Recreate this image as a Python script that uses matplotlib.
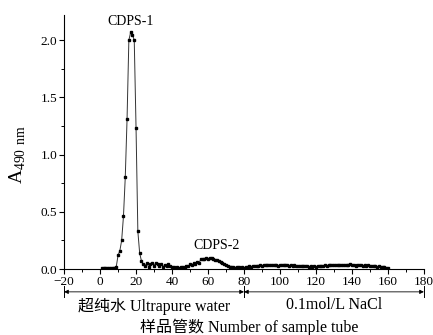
import matplotlib
matplotlib.use("Agg")
import matplotlib.pyplot as plt
from matplotlib.ticker import MultipleLocator

tubes = list(range(1, 161))
absorbance = [
    0.005, 0.006, 0.008, 0.007, 0.012, 0.008, 0.010, 0.012,
    0.02, 0.12, 0.16, 0.25, 0.46, 0.80, 1.31, 2.00, 2.07, 2.05, 2.00, 1.23,
    0.33, 0.14, 0.07,
    0.04, 0.03, 0.05, 0.02, 0.04, 0.05, 0.03, 0.055, 0.04, 0.03, 0.045, 0.02,
    0.035, 0.025, 0.04, 0.03, 0.015, 0.02, 0.012, 0.018, 0.01, 0.015, 0.02,
    0.01, 0.03, 0.025, 0.04,
    0.035, 0.05, 0.045, 0.06, 0.055,
    0.085, 0.09, 0.088, 0.093, 0.09, 0.095, 0.092, 0.088, 0.08, 0.075, 0.07,
    0.06, 0.05, 0.045, 0.035, 0.03, 0.02,
    0.015, 0.018, 0.012, 0.02, 0.015, 0.01, 0.015, 0.012,
    0.018, 0.02, 0.025, 0.02, 0.028, 0.025, 0.03, 0.028, 0.032, 0.03,
    0.035, 0.032, 0.038, 0.035, 0.033, 0.037, 0.034, 0.036, 0.03, 0.033,
    0.035, 0.038, 0.032, 0.036, 0.03, 0.034, 0.028, 0.032, 0.03, 0.026,
    0.03, 0.025, 0.028, 0.022, 0.025, 0.02, 0.024, 0.018, 0.022, 0.02,
    0.025, 0.028, 0.03, 0.026, 0.032, 0.03, 0.034, 0.032, 0.036, 0.034,
    0.038, 0.035, 0.037, 0.033, 0.036, 0.034, 0.038, 0.035, 0.04, 0.036,
    0.034, 0.03, 0.036, 0.032, 0.038, 0.03, 0.035, 0.028, 0.032, 0.026,
    0.03, 0.025, 0.028, 0.02, 0.024, 0.018, 0.02, 0.015, 0.012, 0.005,
]

peak_labels = ["CDPS-1", "CDPS-2"]
peak_pos = [(17, 2.11), (65, 0.15)]
segment_labels = ["超纯水 Ultrapure water", "0.1mol/L NaCl"]
segment_bounds = [(-20, 80), (80, 180)]
xlabel = "样品管数 Number of sample tube"
ylabel = r"A$_{\mathregular{490\ nm}}$"

fam = ["Liberation Serif", "Noto Sans CJK SC"]
plt.rcParams["font.family"] = fam
plt.rcParams["mathtext.fontset"] = "custom"
plt.rcParams["mathtext.rm"] = "Liberation Serif"

fig = plt.figure(figsize=(4.33, 3.35), dpi=100)
ax = fig.add_axes([0.148, 0.197, 0.831, 0.758])

ax.plot(tubes, absorbance, color="#333333", lw=0.7, marker="s", ms=1.7,
        mfc="black", mec="black")

ax.set_xlim(-20, 180)
ax.set_ylim(0, 2.22)
ax.xaxis.set_major_locator(MultipleLocator(20))
ax.xaxis.set_minor_locator(MultipleLocator(10))
ax.yaxis.set_major_locator(MultipleLocator(0.5))
ax.yaxis.set_minor_locator(MultipleLocator(0.25))
ax.yaxis.set_major_formatter(matplotlib.ticker.FormatStrFormatter("%.1f"))
ax.spines["top"].set_visible(False)
ax.spines["right"].set_visible(False)
ax.tick_params(which="major", direction="out", length=3.5, width=0.8, labelsize=9.5, pad=1.5)
ax.tick_params(which="minor", direction="out", length=2, width=0.7)

for lab, (px, py) in zip(peak_labels, peak_pos):
    ax.text(px, py, lab, ha="center", va="bottom", fontsize=10)

ax.set_ylabel(ylabel, fontsize=14)
ax.yaxis.set_label_coords(-0.1, 0.45)

# bracket annotations below axis
trans = ax.get_xaxis_transform()
for (x0, x1), lab in zip(segment_bounds, segment_labels):
    yb = -0.09
    ax.annotate("", xy=(x0, yb), xytext=(x1, yb), xycoords=trans, textcoords=trans,
                arrowprops=dict(arrowstyle="<|-|>", color="black", lw=0.6,
                                mutation_scale=6, shrinkA=0, shrinkB=0),
                annotation_clip=False)
    for xv in (x0, x1):
        ax.plot([xv, xv], [yb - 0.022, yb + 0.022], transform=trans, color="black",
                lw=0.7, clip_on=False)
    ax.text((x0 + x1) / 2, -0.112, lab, transform=trans, ha="center", va="top",
            fontsize=11.5)

fig.text(0.575, -0.004, xlabel, ha="center", va="bottom", fontsize=11.5)

fig.savefig("out.png", dpi=100)
